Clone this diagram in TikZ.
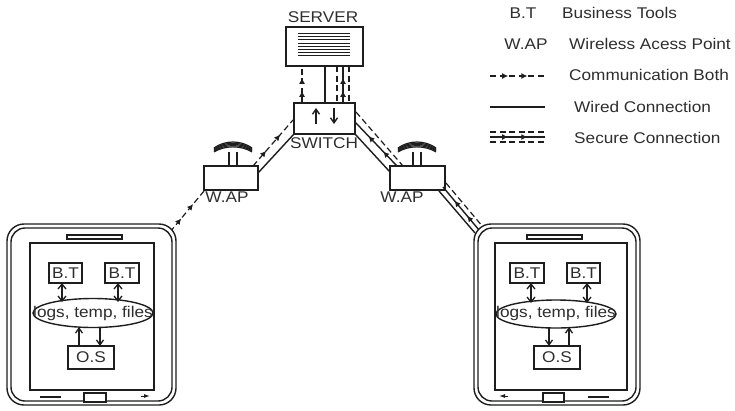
\documentclass[tikz,border=0pt]{standalone}
\usepackage{fontspec}
\setmainfont[FakeStretch=1.11]{Liberation Sans}
\usetikzlibrary{arrows.meta,decorations.markings,shapes.geometric}
\definecolor{ink}{HTML}{1E1E1E}
\definecolor{txt}{HTML}{2E2E2E}
\tikzset{
  x=1pt,y=-1pt,
  every node/.style={text=txt,font=\fontsize{15.5}{17}\selectfont,inner sep=0pt},
  box/.style={draw=ink,line width=1.4pt,fill=white,text=txt},
  lbl/.style={text=txt},
  wire/.style={draw=ink,line width=1.4pt},
  dashline/.style={draw=ink,line width=1.2pt,dash pattern=on 6pt off 3.5pt},
  twoarr/.style={postaction={decorate},decoration={markings,
     mark=at position .33 with {\arrow{Latex[length=6pt,width=6pt]}},
     mark=at position .68 with {\arrow{Latex[length=6pt,width=6pt]}}}},
  link/.style={draw=ink,line width=1.3pt,-{Straight Barb[length=5pt,width=7pt]}},
  both/.style={draw=ink,line width=1.3pt,{Straight Barb[length=5pt,width=8pt]}-{Straight Barb[length=5pt,width=8pt]}},
  wifi/.pic={
    \foreach \d in {0,1.3,2.6,3.9,5.2}{
      \draw[ink,line width=1.2pt] (-19,7+\d*.75) .. controls (-8,\d-1) and (8,\d-1) .. (19,7+\d*.75);
    }
    \draw[ink,line width=1.3pt] (-4,11) -- (-4,25) (4,11) -- (4,25);
  },
}
\begin{document}
\begin{tikzpicture}
\useasboundingbox (0,0) rectangle (735,410);
% server
\node[box,minimum width=77pt,minimum height=39pt] (server) at (324.5,46.5) {};
\foreach \yy in {33,36,39.5,43,46,49.5,52.5,55}{\draw[ink,line width=1pt] (298,\yy) -- (350,\yy);}
\node[lbl] (serverlbl) at (323,17) {SERVER};
% switch
\node[box,minimum width=61pt,minimum height=31pt] (switch) at (324.5,118.5) {};
\node[lbl] (switchlbl) at (324,143) {SWITCH};
\coordinate (su) at (316,124); \coordinate (sub) at (316,108);
\coordinate (sd) at (334,108); \coordinate (sdb) at (334,124);
\draw[link,line width=1.4pt] (su) -- (sub);
\draw[link,line width=1.4pt] (sd) -- (sdb);
% WAPs
\node[box,minimum width=54pt,minimum height=24pt] (wapl) at (231,178) {};
\node[box,minimum width=55pt,minimum height=24pt] (wapr) at (417.5,178) {};
\pic at (233,141) {wifi};
\pic at (417,141) {wifi};
% server to switch
\coordinate (a1) at (302,66); \coordinate (a2) at (302,103);
\draw[dashline,twoarr] (a2) -- (a1);
\coordinate (b1) at (325,66); \coordinate (b2) at (325,103);
\draw[wire] (b1) -- (b2);
\coordinate (c1) at (337,66); \coordinate (c2) at (337,103);
\coordinate (d1) at (343,66); \coordinate (d2) at (343,103);
\coordinate (e1) at (349,66); \coordinate (e2) at (349,103);
\draw[dashline] (c1) -- (c2);
\draw[wire,twoarr] (d2) -- (d1);
\draw[dashline] (e1) -- (e2);
% left WAP to switch
\coordinate (f1) at (253,166); \coordinate (f2) at (293,120);
\draw[dashline,twoarr] (f1) -- (f2);
\coordinate (g1) at (258,173); \coordinate (g2) at (294,134);
\draw[wire] (g1) -- (g2);
% switch to right WAP
\coordinate (h1) at (356,112); \coordinate (h2) at (403,166);
\coordinate (i1) at (355,122); \coordinate (i2) at (397,166);
\coordinate (j1) at (355,134); \coordinate (j2) at (390,172);
\draw[dashline] (h1) -- (h2);
\draw[wire,twoarr] (i2) -- (i1);
\draw[wire] (j1) -- (j2);
% left phone link
\coordinate (k1) at (170,232); \coordinate (k2) at (204,191);
\draw[dashline,twoarr] (k1) -- (k2);
% right WAP to phone
\coordinate (l1) at (446,183); \coordinate (l2) at (483,227);
\coordinate (m1) at (443,187); \coordinate (m2) at (479,230);
\coordinate (n1) at (439,191); \coordinate (n2) at (475,233);
\draw[dashline] (l1) -- (l2);
\draw[wire,twoarr] (m2) -- (m1);
\draw[wire] (n1) -- (n2);
\node[lbl] (wapllbl) at (227,197) {W.AP};
\node[lbl] (waprlbl) at (402,197) {W.AP};
% left phone
\draw[ink,line width=1.4pt,fill=white,rounded corners=17pt] (7,224) rectangle (176,405);
\draw[ink,line width=1.4pt,rounded corners=14pt] (11,228) rectangle (172,401);
\node[box,minimum width=124pt,minimum height=147pt] (scrl) at (92,316.5) {};
\node[box,minimum width=55pt,minimum height=4pt] (spkl) at (94.5,237) {};
\node[box,minimum width=22pt,minimum height=9pt] (homel) at (95,397.5) {};
\coordinate (bl1) at (40,397); \coordinate (bl2) at (61,397);
\draw[wire] (bl1) -- (bl2);
\coordinate (bl3) at (141,396); \coordinate (bl4) at (150,396);
\draw[ink,line width=1pt,-{Latex[length=6pt,width=4pt]}] (bl3) -- (bl4);
\node[box,minimum width=33pt,minimum height=20pt] (btl1) at (65.5,273) {B.T};
\node[box,minimum width=34pt,minimum height=20pt] (btl2) at (122,273) {B.T};
\node[box,ellipse,minimum width=120pt,minimum height=29pt] (ell) at (93,313) {};
\node[lbl] (elltxt) at (93,313) {logs, temp, files};
\node[box,minimum width=46pt,minimum height=23pt] (osl) at (91,357.5) {O.S};
\coordinate (p1) at (62,283); \coordinate (p2) at (62,302);
\coordinate (p3) at (118,283); \coordinate (p4) at (118,302);
\draw[both] (p1) -- (p2);
\draw[both] (p3) -- (p4);
\coordinate (p5) at (79,346); \coordinate (p6) at (79,327);
\coordinate (p7) at (100,327); \coordinate (p8) at (100,346);
\draw[link] (p5) -- (p6);
\draw[link] (p7) -- (p8);
% right phone
\draw[ink,line width=1.4pt,fill=white,rounded corners=17pt] (474,224) rectangle (640,405);
\draw[ink,line width=1.4pt,rounded corners=14pt] (478,228) rectangle (636,401);
\node[box,minimum width=132pt,minimum height=147pt] (scrr) at (561,316.5) {};
\node[box,minimum width=55pt,minimum height=4pt] (spkr) at (554.5,237) {};
\node[box,minimum width=21pt,minimum height=9pt] (homer) at (553.5,397.5) {};
\coordinate (br1) at (588,397); \coordinate (br2) at (609,397);
\draw[wire] (br1) -- (br2);
\coordinate (br3) at (508,396); \coordinate (br4) at (499,396);
\draw[ink,line width=1pt,-{Latex[length=6pt,width=4pt]}] (br3) -- (br4);
\node[box,minimum width=34pt,minimum height=20pt] (btr1) at (527,273) {B.T};
\node[box,minimum width=33pt,minimum height=20pt] (btr2) at (583.5,273) {B.T};
\node[box,ellipse,minimum width=120pt,minimum height=28pt] (elr) at (556,314) {};
\node[lbl] (elrtxt) at (556,313) {logs, temp, files};
\node[box,minimum width=46pt,minimum height=23pt] (osr) at (557,357.5) {O.S};
\coordinate (q1) at (531,283); \coordinate (q2) at (531,303);
\coordinate (q3) at (587,283); \coordinate (q4) at (587,303);
\draw[both] (q1) -- (q2);
\draw[both] (q3) -- (q4);
\coordinate (q5) at (549,327); \coordinate (q6) at (549,346);
\coordinate (q7) at (569,346); \coordinate (q8) at (569,327);
\draw[link] (q5) -- (q6);
\draw[link] (q7) -- (q8);
% legend
\node[lbl] (lg1) at (523,13) {B.T};
\node[lbl,anchor=west] (lg2) at (562,13) {Business Tools};
\node[lbl] (lg3) at (526,44) {W.AP};
\node[lbl,anchor=west] (lg4) at (569,44) {Wireless Acess Point};
\node[lbl,anchor=west] (lg5) at (569,75) {Communication Both};
\node[lbl,anchor=west] (lg6) at (574,107) {Wired Connection};
\node[lbl,anchor=west] (lg7) at (574,138) {Secure Connection};
\coordinate (r1) at (490,76); \coordinate (r2) at (545,76);
\draw[dashline,twoarr] (r1) -- (r2);
\coordinate (r3) at (490,107); \coordinate (r4) at (545,107);
\draw[wire] (r3) -- (r4);
\coordinate (r5) at (490,132); \coordinate (r6) at (545,132);
\coordinate (r7) at (490,137); \coordinate (r8) at (545,137);
\coordinate (r9) at (490,142); \coordinate (r10) at (545,142);
\draw[dashline] (r5) -- (r6);
\draw[wire,twoarr] (r7) -- (r8);
\draw[dashline] (r9) -- (r10);
\end{tikzpicture}
\end{document}
